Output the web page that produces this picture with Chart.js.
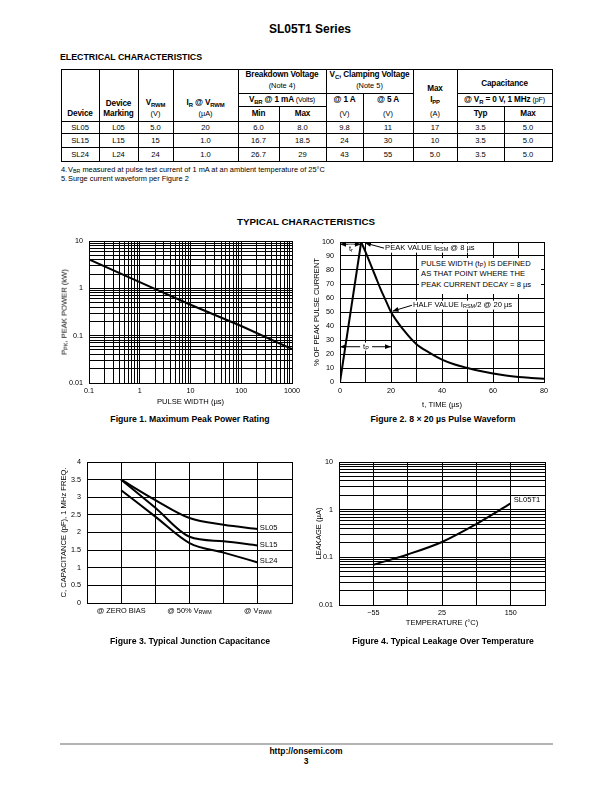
<!DOCTYPE html>
<html><head><meta charset="utf-8"><title>SL05T1 Series</title>
<script src="https://cdn.jsdelivr.net/npm/chart.js@4.4.1/dist/chart.umd.min.js"></script>
<style>
html,body{margin:0;padding:0;background:#fff;}
body{width:612px;height:792px;position:relative;overflow:hidden;font-family:"Liberation Sans",Arial,Helvetica,sans-serif;color:#000;}
.a{position:absolute;white-space:nowrap;line-height:1.15;}
.c{transform:translate(-50%,-50%);}
.l{transform:translate(0,-50%);}
.b{font-weight:bold;}
.n{font-weight:normal;}
.hd{letter-spacing:-0.15px;}
.s{font-size:72%;vertical-align:-0.22em;line-height:0;}
.ln{position:absolute;background:#000;}
canvas{position:absolute;}
.wb{background:#fff;}
</style></head>
<body>
<script>
// ================= DATA =================
// Electrical characteristics table
const devices   = ['SL05', 'SL15', 'SL24'];
const markings  = ['L05', 'L15', 'L24'];
const vrwm      = ['5.0', '15', '24'];
const irAtVrwm  = ['20', '1.0', '1.0'];
const vbrMin    = ['6.0', '16.7', '26.7'];
const vbrMax    = ['8.0', '18.5', '29'];
const vc1A      = ['9.8', '24', '43'];
const vc5A      = ['11', '30', '55'];
const ippMax    = ['17', '10', '5.0'];
const capTyp    = ['3.5', '3.5', '3.5'];
const capMax    = ['5.0', '5.0', '5.0'];

// Figure 1: Maximum Peak Power Rating (log-log)
const pulseWidthUs = [0.1, 1, 10, 100, 1000];
const peakPowerKW  = [4.1, 1.35, 0.45, 0.16, 0.052];
const fig1XLabels  = [0.1, 1, 10, 100, 1000];
const fig1YLabels  = [0.01, 0.1, 1, 10];

// Figure 2: 8 x 20 us pulse waveform
const riseTimeUs  = [0, 8.3];
const risePct     = [0, 100];
const decayTimeUs = [8.3, 10, 12, 14, 16, 18, 20, 25, 30, 35, 40, 45, 50, 55, 60, 65, 70, 75, 80];
const decayPct    = [100, 93, 84, 75, 66, 58, 50, 37, 27, 21, 16, 12.5, 10, 7.8, 6, 4.6, 3.6, 2.9, 2.3];
const fig2XLabels = [0, 20, 40, 60, 80];

// Figure 3: Typical junction capacitance
const capCategories  = ['', '@ ZERO BIAS', '', '@ 50% V_RWM', '', '@ V_RWM', ''];
const capSL05        = [null, 3.5, 2.92, 2.41, 2.22, 2.1, null];
const capSL15        = [null, 3.5, 2.7, 1.88, 1.75, 1.63, null];
const capSL24        = [null, 3.2, 2.45, 1.7, 1.43, 1.15, null];
const capSeriesNames = ['SL05', 'SL15', 'SL24'];

// Figure 4: Typical leakage over temperature
const tempCategories = ['', '\u221255', '', '25', '', '150', ''];
const leakageUA      = [null, 0.07, 0.115, 0.21, 0.5, 1.35, null];
const fig4YLabels    = [0.01, 0.1, 1, 10];
const fig4SeriesName = 'SL05T1';

// ================= HELPERS =================
const FONT = '"Liberation Sans", Arial, Helvetica, sans-serif';
Chart.defaults.font.family = FONT;
Chart.defaults.color = '#000';

function sub(s) { return s.replace(/_([A-Za-z]+)/g, '<span class="s">$1</span>'); }
function T(html, x, y, size, bold, align, extra) {
  const d = document.createElement('div');
  d.className = 'a ' + (align === 'l' ? 'l' : 'c') + (bold ? ' b' : '');
  d.style.left = x + 'px'; d.style.top = y + 'px'; d.style.fontSize = size + 'px';
  if (extra) d.style.cssText += extra;
  d.innerHTML = html;
  document.body.appendChild(d);
  return d;
}
function TH(html, x, y, size, bold) { const d = T(html, x, y, size, bold); d.classList.add('hd'); return d; }
function H(x1, x2, y, w, col) {
  const d = document.createElement('div'); d.className = 'ln';
  d.style.cssText += `left:${x1}px;top:${y}px;width:${x2 - x1 + 1}px;height:${w || 1}px;` + (col ? `background:${col};` : '');
  document.body.appendChild(d);
}
function V(x, y1, y2) {
  const d = document.createElement('div'); d.className = 'ln';
  d.style.cssText += `left:${x}px;top:${y1}px;width:1px;height:${y2 - y1 + 1}px;`;
  document.body.appendChild(d);
}
function logGrid(minExp, maxExp) {
  const v = [];
  for (let e = minExp; e < maxExp; e++) for (let k = 1; k <= 9; k++) v.push(parseFloat((k * Math.pow(10, e)).toPrecision(3)));
  v.push(parseFloat(Math.pow(10, maxExp).toPrecision(3)));
  return v;
}

// ================= PAGE TEXT =================
T('SL05T1 Series', 310, 30, 12, true);
T('ELECTRICAL CHARACTERISTICS', 60, 57, 8.8, true, 'l');

// ================= TABLE =================
const colX = [61, 99, 138, 173, 238, 279, 326, 363, 413, 457, 504, 552];
const rowY = [69, 93, 106, 121, 133, 147, 161];
H(colX[0], colX[11], rowY[0]); H(colX[0], colX[11], rowY[6]);
H(colX[0], colX[11], rowY[3]); H(colX[0], colX[11], rowY[4]); H(colX[0], colX[11], rowY[5]);
H(colX[4], colX[8], rowY[1]); H(colX[9], colX[11], rowY[1]);
H(colX[4], colX[6], rowY[2]); H(colX[9], colX[11], rowY[2]);
[0, 1, 2, 3, 4, 6, 8, 9, 11].forEach(i => V(colX[i], rowY[0], rowY[6]));
V(colX[5], rowY[2], rowY[6]); V(colX[10], rowY[2], rowY[6]); V(colX[7], rowY[1], rowY[6]);
const cx = i => (colX[i] + colX[i + 1]) / 2;
const HF = 8.2, UF = 7.4;
TH('Device', cx(0), 114, HF, true);
TH('Device', cx(1), 104, HF, true); TH('Marking', cx(1), 114, HF, true);
TH(sub('V_RWM'), cx(2), 103, HF, true); T('(V)', cx(2), 114, UF);
TH(sub('I_R @ V_RWM'), cx(3), 103, HF, true); T('(\u00b5A)', cx(3), 114, UF);
TH('Breakdown Voltage', (colX[4] + colX[6]) / 2, 75, HF, true); T('(Note 4)', (colX[4] + colX[6]) / 2, 85.7, UF);
TH(sub('V_BR @ 1 mA') + ' <span class="n" style="font-size:88%">(Volts)</span>', (colX[4] + colX[6]) / 2, 100, HF, true);
TH('Min', cx(4), 114, HF, true); TH('Max', cx(5), 114, HF, true);
TH(sub('V_C, Clamping Voltage'), (colX[6] + colX[8]) / 2, 75, HF, true); T('(Note 5)', (colX[6] + colX[8]) / 2, 85.7, UF);
TH('@ 1 A', cx(6), 100, HF, true); TH('@ 5 A', cx(7), 100, HF, true);
T('(V)', cx(6), 114, UF); T('(V)', cx(7), 114, UF);
TH('Max', cx(8), 89, HF, true); TH(sub('I_PP'), cx(8), 100, HF, true); T('(A)', cx(8), 114, UF);
TH('Capacitance', (colX[9] + colX[11]) / 2, 84.3, HF, true);
TH(sub('@ V_R = 0 V, 1 MHz') + ' <span class="n" style="font-size:88%">(pF)</span>', (colX[9] + colX[11]) / 2, 100, HF, true);
TH('Typ', cx(9), 114, HF, true); TH('Max', cx(10), 114, HF, true);
const cols = [devices, markings, vrwm, irAtVrwm, vbrMin, vbrMax, vc1A, vc5A, ippMax, capTyp, capMax];
const rowC = [127.8, 140.8, 154.6];
cols.forEach((arr, ci) => arr.forEach((v, ri) => T(v, cx(ci), rowC[ri], 7.6)));
T('4.', 61, 170, 7.4, false, 'l'); T(sub('V_BR measured at pulse test current of 1 mA at an ambient temperature of 25\u00b0C'), 68, 170, 7.4, false, 'l');
T('5.', 61, 179, 7.4, false, 'l'); T('Surge current waveform per Figure 2', 68, 179, 7.4, false, 'l');

T('TYPICAL CHARACTERISTICS', 306, 222, 9.8, true);

// ================= CHARTS =================
function mkChart(box, cfg) {
  const cv = document.createElement('canvas');
  cv.width = box.w; cv.height = box.h;
  cv.style.left = box.l + 'px'; cv.style.top = box.t + 'px';
  cv.style.width = box.w + 'px'; cv.style.height = box.h + 'px';
  document.body.appendChild(cv);
  cfg.options = Object.assign({
    responsive: false, maintainAspectRatio: false, animation: false, devicePixelRatio: 1, events: [],
    layout: { padding: { top: 10, right: 10, left: 0, bottom: 0 } },
    plugins: { legend: { display: false }, tooltip: { enabled: false } }
  }, cfg.options);
  return new Chart(cv.getContext('2d'), cfg);
}
function ax(o) {
  const a = {
    type: o.type,
    grid: { color: '#000', lineWidth: 1, drawTicks: false },
    border: { color: '#000', width: 1 },
    ticks: { color: '#000', font: { size: 7.2 }, padding: o.padding, autoSkip: false, maxRotation: 0, minRotation: 0 },
    title: o.title ? { display: true, text: o.title, color: '#000', font: { size: 7.6 }, padding: 0 } : { display: false },
    afterFit: (s) => {
      if (o.isX) { s.height = o.size; s.paddingLeft = 0; s.paddingRight = 0; }
      else { s.width = o.size; s.paddingTop = 0; s.paddingBottom = 0; }
    }
  };
  if (o.min !== undefined) a.min = o.min;
  if (o.max !== undefined) a.max = o.max;
  if (o.stepSize) a.ticks.stepSize = o.stepSize;
  if (o.tickCb) a.ticks.callback = o.tickCb;
  if (o.afterBuild) a.afterBuildTicks = o.afterBuild;
  return a;
}
const lineDs = (data, extra) => Object.assign({ data, borderColor: '#000', borderWidth: 2, pointRadius: 0, fill: false, tension: 0 }, extra || {});

// ---- Figure 1 ----
const f1 = { l: 60, t: 231, w: 242, h: 175 };
mkChart(f1, {
  type: 'line',
  data: { datasets: [lineDs(pulseWidthUs.map((x, i) => ({ x, y: peakPowerKW[i] })))] },
  options: { scales: {
    x: ax({ type: 'logarithmic', min: 0.1, max: 1000, size: 23, isX: true, title: 'PULSE WIDTH (\u00b5s)', padding: 4,
      afterBuild: s => { s.ticks = logGrid(-1, 3).map(v => ({ value: v })); },
      tickCb: v => fig1XLabels.includes(v) ? String(v) : '' }),
    y: ax({ type: 'logarithmic', min: 0.01, max: 10, size: 29, padding: 6,
      afterBuild: s => { s.ticks = logGrid(-2, 1).map(v => ({ value: v })); },
      tickCb: v => fig1YLabels.includes(v) ? String(v) : '' })
  } }
});
T('P<span class="s">PK</span>, PEAK POWER (kW)', 64.5, 312, 7.6, false, 'c', 'transform:translate(-50%,-50%) rotate(-90deg);');
T('Figure 1. Maximum Peak Power Rating', 190, 419, 8.7, true);

// ---- Figure 2 ----
function drawArrow(ctx, p1, p2, head) {
  ctx.beginPath(); ctx.moveTo(p1[0], p1[1]); ctx.lineTo(p2[0], p2[1]); ctx.stroke();
  if (head) {
    const ang = Math.atan2(p2[1] - p1[1], p2[0] - p1[0]), L = 6, W = 2.4;
    ctx.beginPath();
    ctx.moveTo(p2[0], p2[1]);
    ctx.lineTo(p2[0] - L * Math.cos(ang) + W * Math.sin(ang), p2[1] - L * Math.sin(ang) - W * Math.cos(ang));
    ctx.lineTo(p2[0] - L * Math.cos(ang) - W * Math.sin(ang), p2[1] - L * Math.sin(ang) + W * Math.cos(ang));
    ctx.closePath(); ctx.fill();
  }
}
const fig2Arrows = {
  id: 'fig2Arrows',
  afterDatasetsDraw(chart) {
    const { ctx, scales: { x, y } } = chart;
    const P = (a, b) => [x.getPixelForValue(a), y.getPixelForValue(b)];
    ctx.save(); ctx.strokeStyle = '#000'; ctx.fillStyle = '#000'; ctx.lineWidth = 1;
    drawArrow(ctx, P(4, 98.4), P(0, 98.4), true); drawArrow(ctx, P(4, 98.4), P(8.2, 98.4), true);
    drawArrow(ctx, P(10, 25.2), P(0, 25.2), true); drawArrow(ctx, P(10, 25.2), P(20, 25.2), true);
    drawArrow(ctx, P(17.3, 95.6), P(9.8, 99.3), true);
    drawArrow(ctx, P(28.2, 54.8), P(20.6, 50.6), true);
    ctx.restore();
  }
};
const f2 = { l: 312, t: 232, w: 242, h: 177 };
const c2 = mkChart(f2, {
  type: 'line',
  data: { datasets: [
    lineDs(riseTimeUs.map((x, i) => ({ x, y: risePct[i] }))),
    lineDs(decayTimeUs.map((x, i) => ({ x, y: decayPct[i] })), { cubicInterpolationMode: 'monotone' })
  ] },
  options: { scales: {
    x: ax({ type: 'linear', min: 0, max: 80, stepSize: 10, size: 27, isX: true, title: 't, TIME (\u00b5s)', padding: 5,
      tickCb: v => fig2XLabels.includes(v) ? String(v) : '' }),
    y: ax({ type: 'linear', min: 0, max: 100, stepSize: 10, size: 28, padding: 6, title: '% OF PEAK PULSE CURRENT',
      tickCb: v => String(v) })
  } },
  plugins: [fig2Arrows]
});
{
  const X = v => f2.l + c2.scales.x.getPixelForValue(v), Y = v => f2.t + c2.scales.y.getPixelForValue(v);
  T('t<span class="s">r</span>', X(4.3), Y(94.8), 7.6, false, 'c', 'background:#fff;padding:0 1px;');
  T('PEAK VALUE I<span class="s">RSM</span> @ 8 \u00b5s', X(17.3), Y(95.6), 7.6, false, 'l', 'background:#fff;padding:0 1px;');
  const bx = document.createElement('div');
  bx.className = 'a wb';
  bx.style.cssText += `left:${X(30.8)}px;top:${Y(88.8)}px;width:${X(79)-X(30.8)}px;height:${Y(62.5)-Y(88.8)}px;font-size:7.6px;line-height:10.5px;padding-top:1px;box-sizing:border-box;padding-left:${X(31.8)-X(30.8)}px;`;
  bx.innerHTML = 'PULSE WIDTH (t<span class="s">P</span>) IS DEFINED<br>AS THAT POINT WHERE THE<br>PEAK CURRENT DECAY = 8 \u00b5s';
  document.body.appendChild(bx);
  T('HALF VALUE I<span class="s">RSM</span>/2 @ 20 \u00b5s', X(28.2), Y(54.8), 7.6, false, 'l', 'background:#fff;padding:0 1px;');
  T('t<span class="s">P</span>', X(10.2), Y(25.2), 7.6, false, 'c', 'background:#fff;padding:0 3px;');
}
T('Figure 2. 8 \u00d7 20 \u00b5s Pulse Waveform', 443, 419, 8.7, true);

// ---- Figure 3 ----
const f3 = { l: 59, t: 452, w: 243, h: 166 };
const capSeries = [capSL05, capSL15, capSL24];
const c3 = mkChart(f3, {
  type: 'line',
  data: { labels: capCategories, datasets: capSeries.map(d => lineDs(d, { cubicInterpolationMode: 'monotone' })) },
  options: { scales: {
    x: ax({ type: 'category', size: 15, isX: true, padding: 4, tickCb: () => '' }),
    y: ax({ type: 'linear', min: 0, max: 4, stepSize: 0.5, size: 28, padding: 6, title: 'C, CAPACITANCE (pF), 1 MHz FREQ.',
      tickCb: v => String(v) })
  } }
});
{
  const X = v => f3.l + c3.scales.x.getPixelForValue(v), Y = v => f3.t + c3.scales.y.getPixelForValue(v);
  capCategories.forEach((lab, i) => { if (lab) T(sub(lab), X(i), 611, 7.4); });
  capSeries.forEach((d, si) => {
    let li = d.length - 1; while (d[li] == null) li--;
    T(capSeriesNames[si], X(li) + 2, Y(d[li]) - 1, 7.6, false, 'l');
  });
}
T('Figure 3. Typical Junction Capacitance', 190, 641, 8.7, true);

// ---- Figure 4 ----
const f4 = { l: 314, t: 452, w: 241, h: 175 };
const c4 = mkChart(f4, {
  type: 'line',
  data: { labels: tempCategories, datasets: [lineDs(leakageUA, { cubicInterpolationMode: 'monotone' })] },
  options: { scales: {
    x: ax({ type: 'category', size: 22, isX: true, title: 'TEMPERATURE (\u00b0C)', padding: 4, tickCb: v => tempCategories[v] }),
    y: ax({ type: 'logarithmic', min: 0.01, max: 10, size: 25, padding: 6, title: 'LEAKAGE (\u00b5A)',
      afterBuild: s => { s.ticks = logGrid(-2, 1).map(v => ({ value: v })); },
      tickCb: v => fig4YLabels.includes(v) ? String(v) : '' })
  } }
});
{
  const X = v => f4.l + c4.scales.x.getPixelForValue(v), Y = v => f4.t + c4.scales.y.getPixelForValue(v);
  let li = leakageUA.length - 1; while (leakageUA[li] == null) li--;
  T(fig4SeriesName, X(li) + 3, Y(leakageUA[li]) - 3, 7.6, false, 'l');
}
T('Figure 4. Typical Leakage Over Temperature', 443, 641, 8.7, true);

// ================= FOOTER =================
H(60, 552, 743, 2, '#b4b4b4');
T('http://onsemi.com', 306, 752, 8.5, true);
T('3', 306, 762, 8.5, true);
</script>
</body></html>
